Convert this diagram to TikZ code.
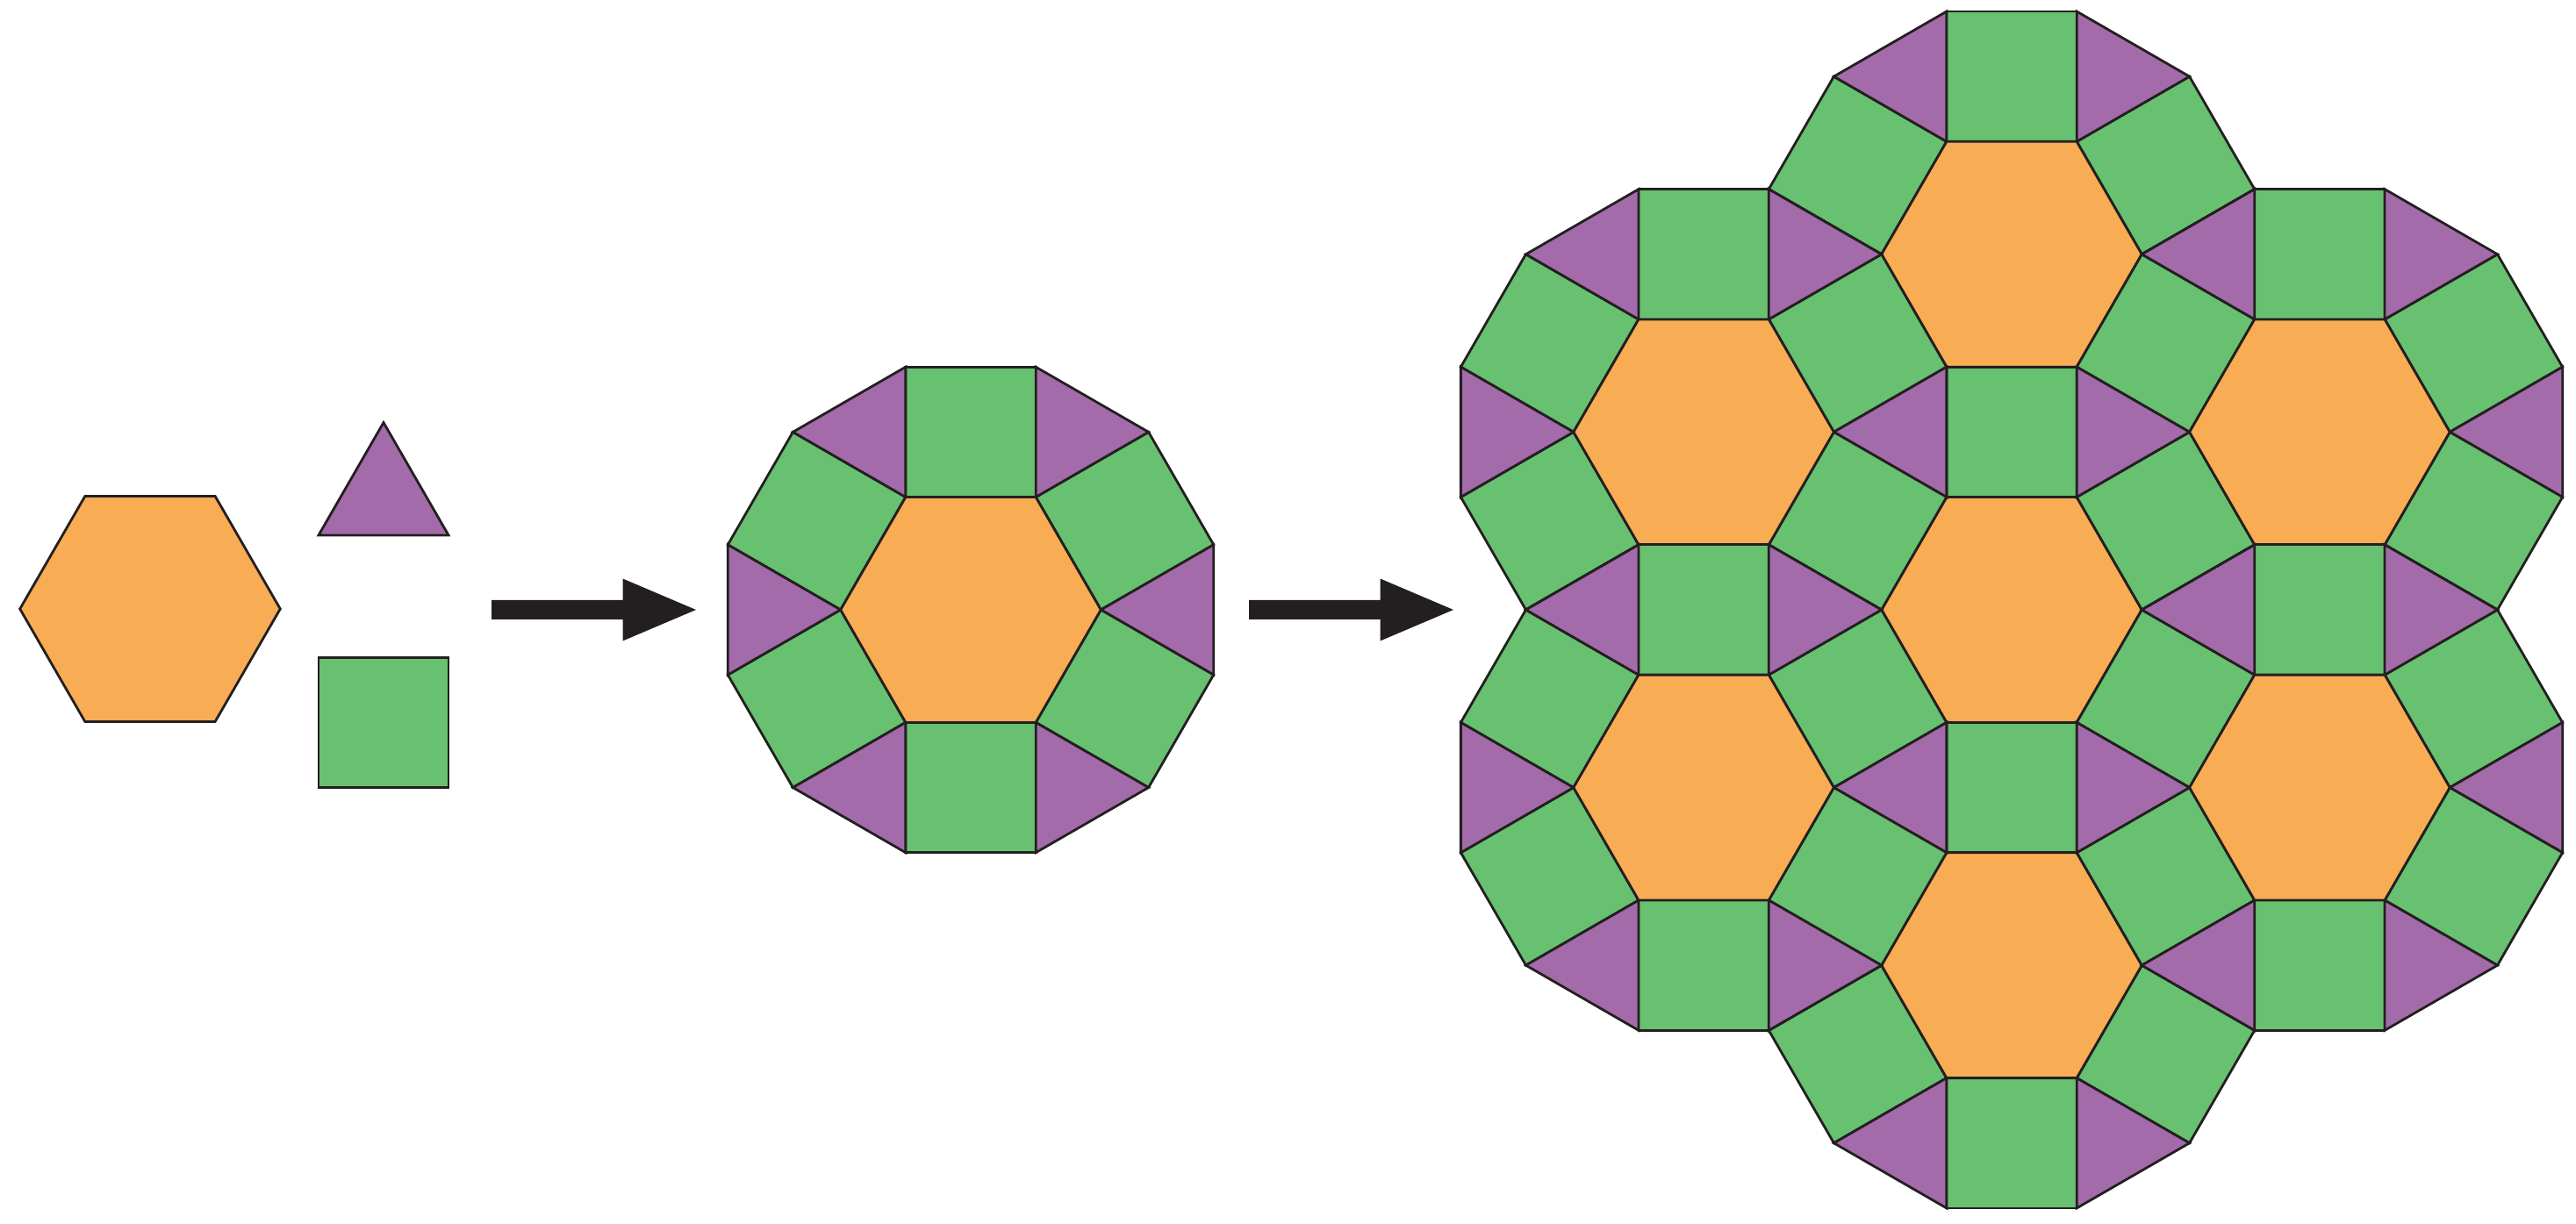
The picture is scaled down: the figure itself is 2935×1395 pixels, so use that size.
\documentclass[tikz,border=0pt]{standalone}
\usepackage{tikz}
\definecolor{hexorange}{RGB}{248,172,84}
\definecolor{tripurple}{RGB}{164,107,170}
\definecolor{sqgreen}{RGB}{104,192,113}
\definecolor{outline}{RGB}{35,31,32}
\def\sd{148.3}

\begin{document}
\begin{tikzpicture}[x=0.01cm,y=0.01cm,
        hexfill/.style={fill=hexorange,draw=outline,line width=0.8pt},
        sqfill/.style={fill=sqgreen,draw=outline,line width=0.8pt},
        trifill/.style={fill=tripurple,draw=outline,line width=0.8pt},
        blockarrow/.style={fill=outline}]
        \useasboundingbox (0,0) rectangle (2935,1395);

        % Single tiles
        \begin{scope}[shift={(171,701)}]
            \filldraw[hexfill] (0:\sd) -- (60:\sd) -- (120:\sd) -- (180:\sd) -- (240:\sd) -- (300:\sd) -- cycle;
        \end{scope}
        \filldraw[trifill] (363,785) -- (511,785) -- (437,913.4) -- cycle;
        \filldraw[sqfill] (363,497.5) rectangle (511,645.8);

        % Arrows
        \fill[blockarrow] (560,689) -- (709.5,689) -- (709.5,664.5) -- (793,700) -- (709.5,735.5) -- (709.5,711) -- (560,711) -- cycle;
        \fill[blockarrow] (1423,689) -- (1572.5,689) -- (1572.5,664.5) -- (1656,700) -- (1572.5,735.5) -- (1572.5,711) -- (1423,711) -- cycle;

        % Rosettes: one in the middle, seven in the patch
        \foreach \cx/\cy in {1106/700, 2292/700, 2292/1105.2, 2292/294.8,
                1941.1/902.6, 1941.1/497.4, 2642.9/902.6, 2642.9/497.4}
        {
            \begin{scope}[shift={(\cx,\cy)}]
                % Squares and triangles
                \foreach \a in {0,60,...,300}
                {
                    \filldraw[sqfill] (\a:\sd) -- ++(\a+30:\sd) -- ++(\a+120:\sd) -- ++(\a+210:\sd) -- cycle;
                    \filldraw[trifill] (\a:\sd) -- ++(\a-30:\sd) -- ++(\a+90:\sd) -- cycle;
                }
                % Hexagon
                \filldraw[hexfill] (0:\sd) -- (60:\sd) -- (120:\sd) -- (180:\sd) -- (240:\sd) -- (300:\sd) -- cycle;
            \end{scope}
        }
    \end{tikzpicture}
\end{document}
